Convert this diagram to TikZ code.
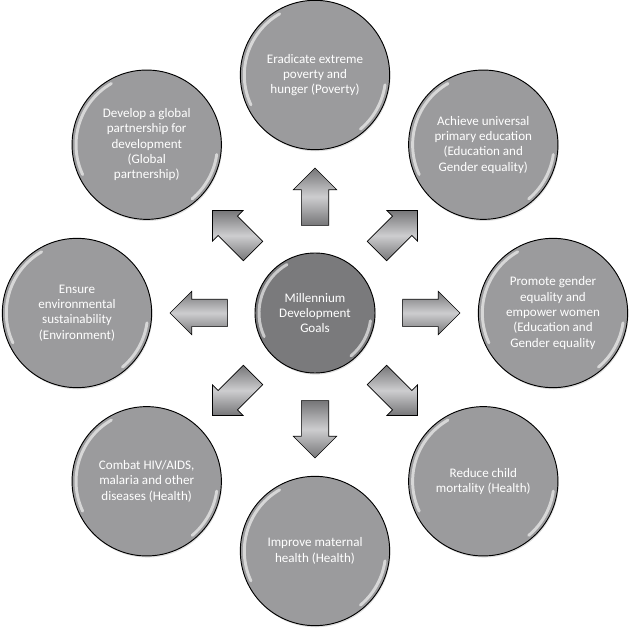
\documentclass[tikz,border=0pt]{standalone}
\usepackage{fontspec}
\setmainfont{Carlito}
\usetikzlibrary{shapes.arrows,shadows,calc}

\definecolor{goalgray}{RGB}{155,155,157}
\definecolor{hubgray}{RGB}{122,122,124}
\definecolor{arrowdark}{RGB}{118,118,120}
\definecolor{arrowlight}{RGB}{205,205,207}

\begin{document}
\begin{tikzpicture}[x=0.75pt,y=0.75pt,
        goal/.style={circle,draw=black,line width=0.7pt,fill=goalgray,text=white,
            minimum size=112pt,inner sep=0pt,align=center,
            font=\fontsize{9.8}{11.5}\selectfont,
            drop shadow={opacity=0.25,shadow xshift=0.6pt,shadow yshift=-1.2pt},
            shine=53pt},
        hub/.style={goal,fill=hubgray,minimum size=90pt,shine=42pt},
        shine/.style={path picture={
            \draw[white,opacity=0.6,line width=2.2pt,line cap=round]
                ([shift={(205:#1)}]path picture bounding box.center)
                arc[start angle=205,end angle=120,radius=#1];
            \draw[white,opacity=0.6,line width=2.2pt,line cap=round]
                ([shift={(-8:#1)}]path picture bounding box.center)
                arc[start angle=-8,end angle=-50,radius=#1];}},
        pointer/.style={single arrow,draw=black,line width=0.5pt,
            minimum height=43pt,inner xsep=0pt,inner ysep=10pt,
            single arrow head extend=6pt,single arrow tip angle=90,
            top color=arrowdark,bottom color=arrowdark,middle color=arrowlight}]

    \useasboundingbox (-315,-321) rectangle (318,313);

    % Hub
    \node[hub] (mdg) at (0,0) {Millennium\\Development\\Goals};

    % Goals, clockwise from the top
    \node[goal] (poverty) at (90:238) {Eradicate extreme\\poverty and\\hunger (Poverty)};
    \node[goal] (education) at (45:238) {Achieve universal\\primary education\\(Education and\\Gender equality)};
    \node[goal] (gender) at (0:238) {Promote gender\\equality and\\empower women\\(Education and\\Gender equality};
    \node[goal] (child) at (-45:238) {Reduce child\\mortality (Health)};
    \node[goal] (maternal) at (-90:238) {Improve maternal\\health (Health)};
    \node[goal] (disease) at (-135:238) {Combat HIV/AIDS,\\malaria and other\\diseases (Health)};
    \node[goal] (environment) at (180:238) {Ensure\\environmental\\sustainability\\(Environment)};
    \node[goal] (partnership) at (135:238) {Develop a global\\partnership for\\development\\(Global\\partnership)};

    % Arrows
    \foreach \g/\a in {poverty/90,education/45,gender/0,child/-45,
                       maternal/-90,disease/-135,environment/180,partnership/135}
        \node[pointer,rotate=\a] (to-\g) at ($(mdg)!0.46!(\g)$) {};
\end{tikzpicture}
\end{document}
